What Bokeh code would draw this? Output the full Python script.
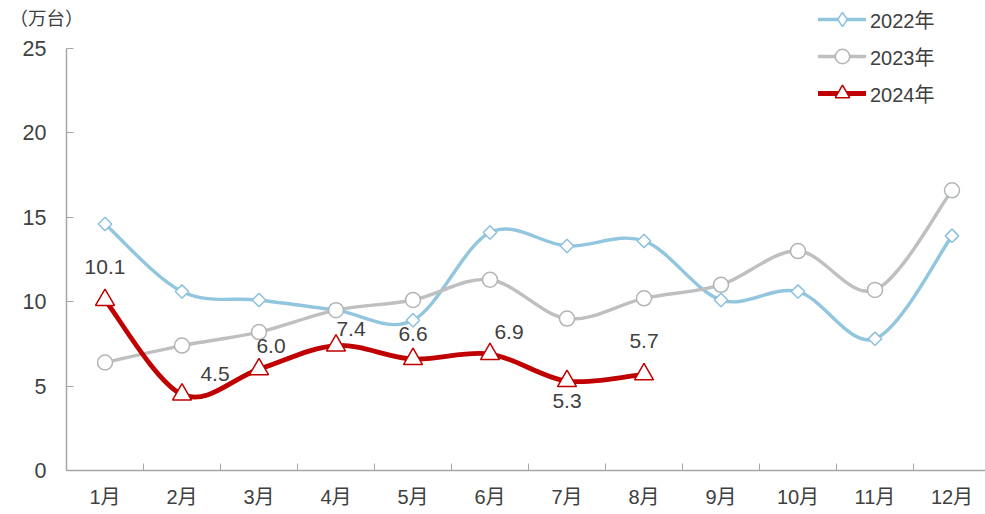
import math
from bokeh.plotting import figure
from bokeh.models import ColumnDataSource, FixedTicker, Legend, LegendItem, Label
from bokeh.core.properties import value
from bokeh.embed import file_html
from bokeh.resources import INLINE

# ---------------- data ----------------
months = ["1月", "2月", "3月", "4月", "5月", "6月", "7月", "8月", "9月", "10月", "11月", "12月"]
v2022 = [14.6, 10.6, 10.1, 9.5, 8.9, 14.1, 13.3, 13.6, 10.1, 10.6, 7.8, 13.9]
v2023 = [6.4, 7.4, 8.2, 9.5, 10.1, 11.3, 9.0, 10.2, 11.0, 13.0, 10.7, 16.6]
v2024 = [10.1, 4.5, 6.0, 7.4, 6.6, 6.9, 5.3, 5.7]
series_names = ["2022年", "2023年", "2024年"]
y_ticks = [0, 5, 10, 15, 20, 25]
unit_label = "（万台）"

# label offsets (screen px) for the 2024 data labels -- styling only
label_dx = [0, 33, 12, 15, 0, 19, 0, 0]
label_dy = [-33, -21, -23, -17, -25, -22, 20, -33]

FONT = "Liberation Sans, Noto Sans CJK SC"
TXT = "#404040"
AX = "#A6A6A6"

W, H = 985, 512
PX_X = 77.0      # px per category
PX_Y = 16.88     # px per unit
LEFT, TOP, BOTTOM = 66, 48, 470   # plot-area edges in page px

x0 = 0.5 - LEFT / PX_X
x1 = 0.5 + (W - LEFT) / PX_X
y1 = y_ticks[-1] + TOP / PX_Y
y0 = -(H - BOTTOM) / PX_Y

p = figure(width=W, height=H, x_range=(x0, x1), y_range=(y0, y1),
           output_backend="svg", toolbar_location=None,
           min_border_left=0, min_border_right=0, min_border_top=0, min_border_bottom=0)
p.outline_line_color = None
p.xgrid.visible = False
p.ygrid.visible = False
p.background_fill_color = "white"
p.border_fill_color = "white"

# x axis
xa = p.xaxis[0]
xa.fixed_location = 0
xa.bounds = (0.5, x1)
xa.ticker = FixedTicker(ticks=list(range(1, 13)), minor_ticks=[i + 0.5 for i in range(0, 13)])
xa.major_label_overrides = {i + 1: m for i, m in enumerate(months)}
xa.major_tick_line_color = None
xa.minor_tick_in = 7
xa.minor_tick_out = 0
xa.minor_tick_line_color = AX
xa.axis_line_color = AX
xa.axis_line_width = 1.5
xa.major_label_text_font = FONT
xa.major_label_text_font_size = "20px"
xa.major_label_text_color = TXT
xa.major_label_standoff = 9

# y axis
ya = p.yaxis[0]
ya.fixed_location = 0.5
ya.bounds = (y_ticks[0], y_ticks[-1])
ya.ticker = FixedTicker(ticks=y_ticks, minor_ticks=[])
ya.major_tick_in = 7
ya.major_tick_out = 0
ya.major_tick_line_color = AX
ya.minor_tick_line_color = None
ya.axis_line_color = AX
ya.axis_line_width = 1.5
ya.major_label_text_font = FONT
ya.major_label_text_font_size = "21.5px"
ya.major_label_text_color = TXT
ya.major_label_standoff = 20


def smooth_source(vals):
    xs = list(range(1, len(vals) + 1))
    n = len(vals)
    d = dict(x0=[], y0=[], x1=[], y1=[], cx0=[], cy0=[], cx1=[], cy1=[])
    for i in range(n - 1):
        im1 = max(i - 1, 0)
        ip2 = min(i + 2, n - 1)
        d["x0"].append(xs[i]); d["y0"].append(vals[i])
        d["x1"].append(xs[i + 1]); d["y1"].append(vals[i + 1])
        d["cx0"].append(xs[i] + (xs[i + 1] - xs[im1]) / 6)
        d["cy0"].append(vals[i] + (vals[i + 1] - vals[im1]) / 6)
        d["cx1"].append(xs[i + 1] - (xs[ip2] - xs[i]) / 6)
        d["cy1"].append(vals[i + 1] - (vals[ip2] - vals[i]) / 6)
    return ColumnDataSource(d)


styles = [
    dict(vals=v2022, color="#92C5DE", lw=3.4, marker="square", size=9.5, angle=math.pi / 4,
         mline="#8DC0DC", legend_marker="diamond"),
    dict(vals=v2023, color="#BDBFC1", lw=3.4, marker="circle", size=15, angle=0,
         mline="#B2B5B8", legend_marker=None),
    dict(vals=v2024, color="#C00000", lw=4.8, marker="triangle", size=19, angle=0,
         mline="#C00000", legend_marker=None),
]

items = []
for name, st in zip(series_names, styles):
    src = smooth_source(st["vals"])
    r_line = p.bezier(x0="x0", y0="y0", x1="x1", y1="y1", cx0="cx0", cy0="cy0",
                      cx1="cx1", cy1="cy1", source=src, line_color=st["color"],
                      line_width=st["lw"], line_cap="round")
    ms = ColumnDataSource(dict(x=list(range(1, len(st["vals"]) + 1)), y=st["vals"]))
    r_mark = p.scatter("x", "y", source=ms, marker=st["marker"], size=st["size"],
                       angle=st["angle"], fill_color="white", line_color=st["mline"],
                       line_width=1.5)
    rs = [r_line, r_mark]
    if st["legend_marker"]:
        # legend-only key glyph (markers in legends are drawn unrotated);
        # its single NaN row draws nothing in the plot area
        proxy_src = ColumnDataSource(dict(x=[float("nan")], y=[float("nan")]))
        proxy = p.scatter("x", "y", source=proxy_src, marker=st["legend_marker"], size=14,
                          fill_color="white", line_color=st["mline"], line_width=1.5)
        rs = [r_line, proxy]
    items.append(LegendItem(label=name, renderers=rs))

# data labels for 2024
lab = ColumnDataSource(dict(x=list(range(1, len(v2024) + 1)), y=v2024,
                            t=[f"{v:.1f}" for v in v2024], dx=label_dx, dy=label_dy))
p.text("x", "y", text="t", source=lab, x_offset="dx", y_offset="dy",
       text_align="center", text_baseline="middle", text_font=value(FONT),
       text_font_size="21px", text_color=TXT)

legend = Legend(items=items, location=(818, H - 111), orientation="vertical",
                padding=0, margin=0, spacing=1, glyph_width=48, glyph_height=36,
                label_height=30, label_standoff=4, border_line_color=None,
                background_fill_alpha=0, label_text_font=FONT,
                label_text_font_size="20px", label_text_color=TXT)
p.add_layout(legend)

p.add_layout(Label(x=0.5 - 57 / PX_X, y=y_ticks[-1] + 30 / PX_Y, text=unit_label,
                   text_font=FONT, text_font_size="18.5px", text_color=TXT,
                   text_baseline="middle", text_align="left"))

open("out.html", "w").write(file_html(p, INLINE))
